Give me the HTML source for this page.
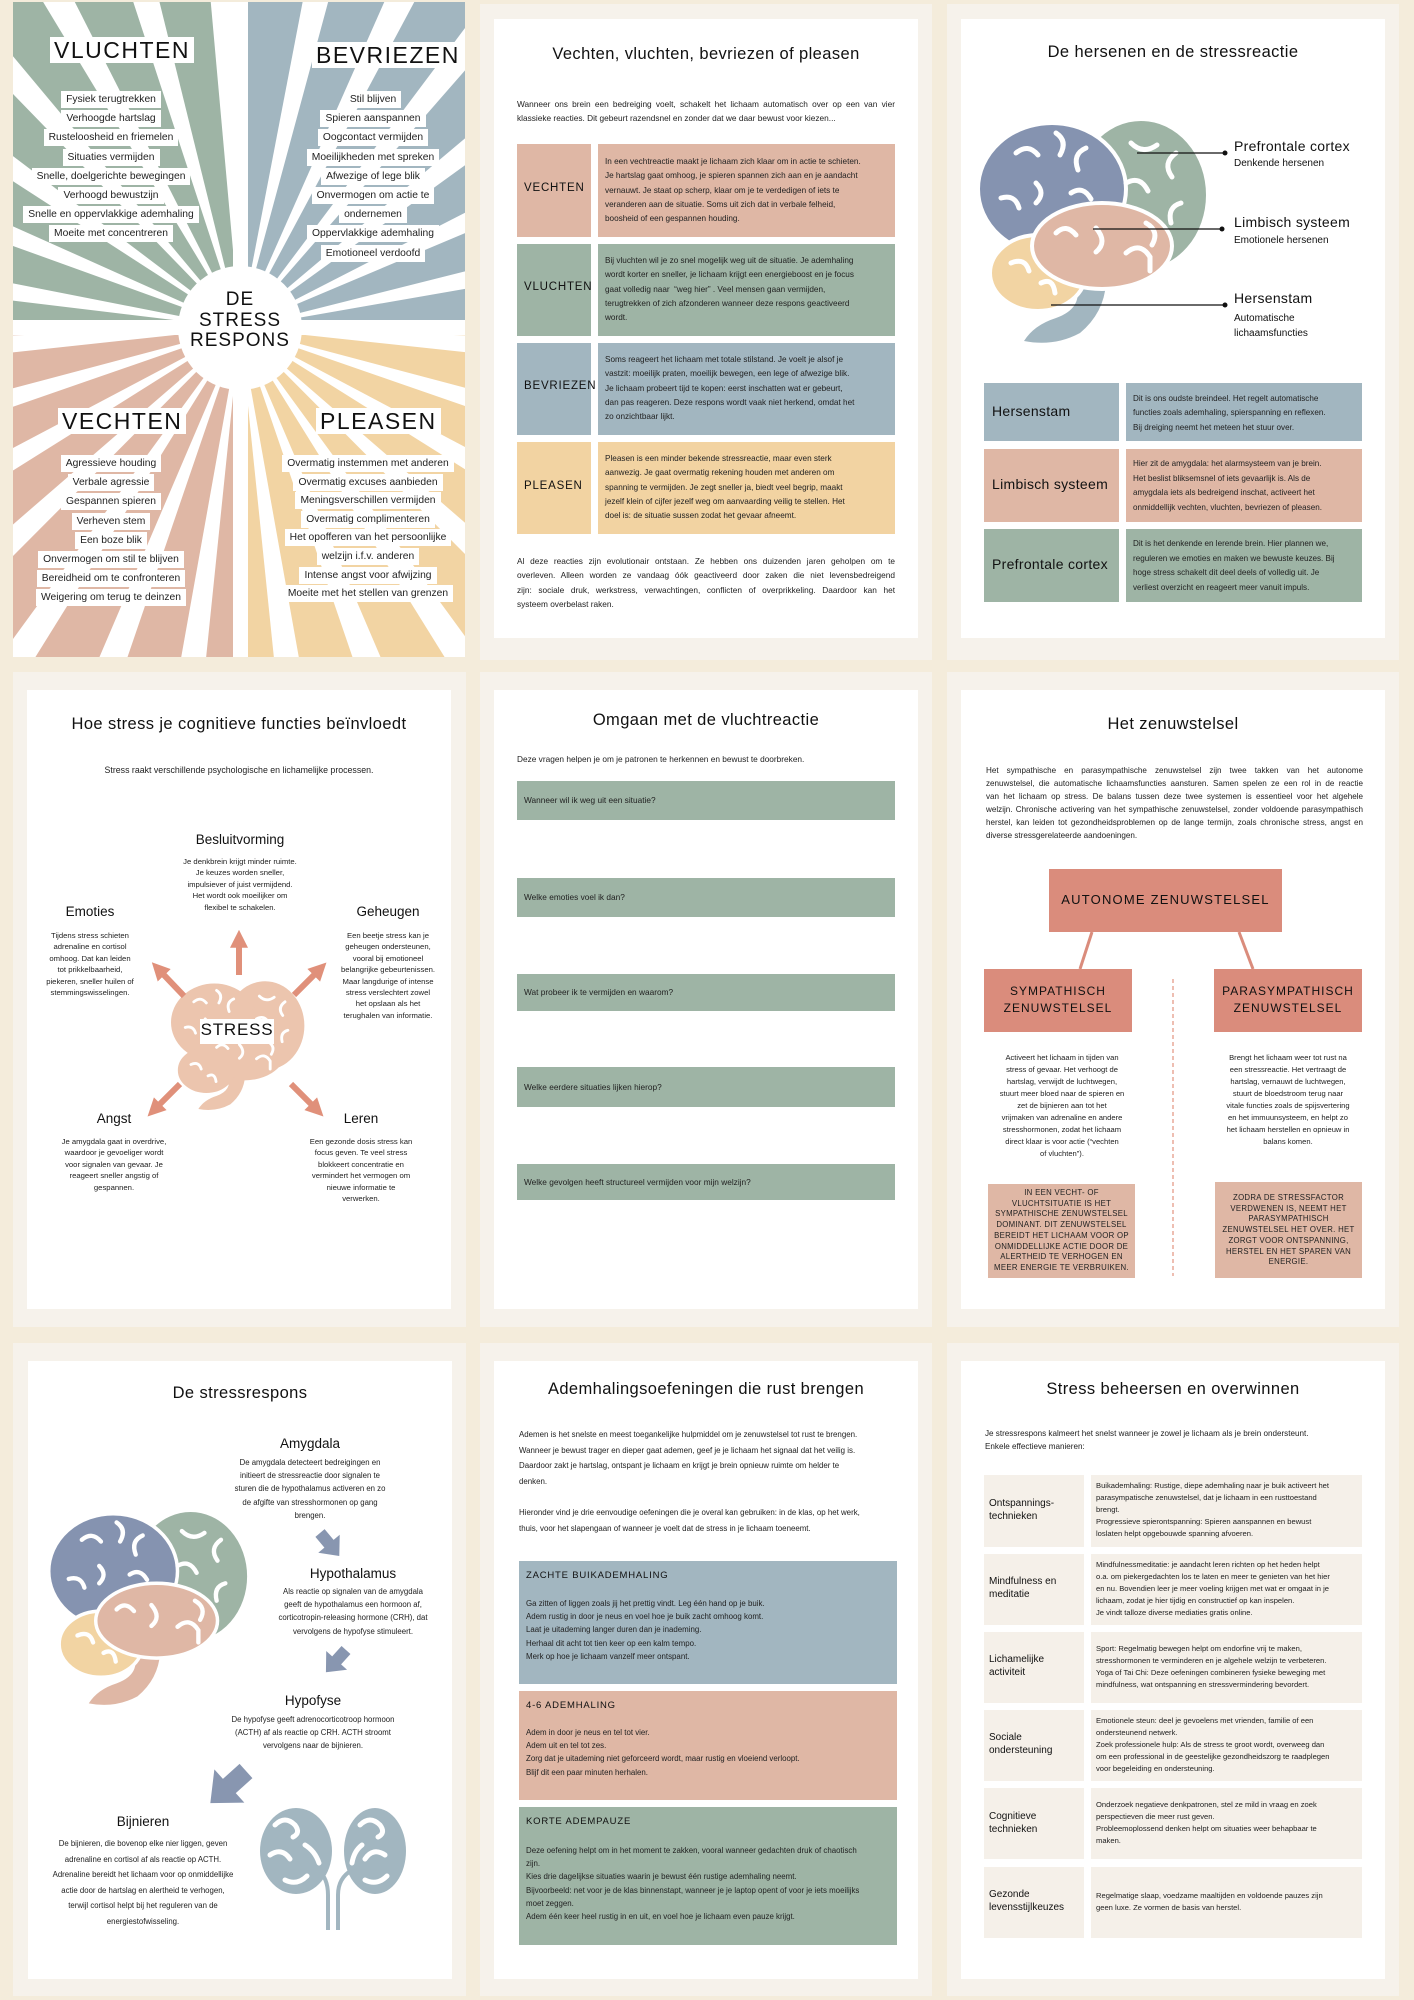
<!DOCTYPE html>
<html><head><meta charset="utf-8">
<style>
*{margin:0;padding:0;box-sizing:border-box}
body{width:1414px;height:2000px;background:#f4ecdb;position:relative;overflow:hidden;font-family:"Liberation Sans",sans-serif;color:#222}
.c{position:absolute;background:#f6f2eb}
.p{position:absolute;background:#fff}
.t{position:absolute;white-space:nowrap;font-family:"Liberation Sans",sans-serif;color:#222}
.ttl{font-size:16.5px;color:#111;text-align:center;letter-spacing:.4px}
.box{position:absolute}
.j div{text-align:justify;text-align-last:justify}
.j div.l{text-align-last:left}
.it{position:absolute;text-align:center;font-size:10.3px;line-height:19.2px;color:#222}
.it span{background:#fff;padding:3px 5px}
.hd{position:absolute;background:#fff;font-size:23px;letter-spacing:1.5px;color:#111;padding:0 4px;line-height:26px}
svg{position:absolute;left:0;top:0}
</style></head><body>

<div class="c" style="left:480px;top:4px;width:452px;height:656px"></div>
<div class="c" style="left:947px;top:4px;width:452px;height:656px"></div>
<div class="c" style="left:13px;top:672px;width:453px;height:655px"></div>
<div class="c" style="left:480px;top:672px;width:452px;height:655px"></div>
<div class="c" style="left:947px;top:672px;width:452px;height:655px"></div>
<div class="c" style="left:13px;top:1343px;width:453px;height:653px"></div>
<div class="c" style="left:480px;top:1343px;width:452px;height:653px"></div>
<div class="c" style="left:947px;top:1343px;width:452px;height:653px"></div>

<div class="p" style="left:494px;top:19px;width:424px;height:619px"></div>
<div class="p" style="left:961px;top:19px;width:424px;height:619px"></div>
<div class="p" style="left:27px;top:690px;width:424px;height:619px"></div>
<div class="p" style="left:494px;top:690px;width:424px;height:619px"></div>
<div class="p" style="left:961px;top:690px;width:424px;height:619px"></div>
<div class="p" style="left:28px;top:1361px;width:424px;height:618px"></div>
<div class="p" style="left:494px;top:1361px;width:424px;height:618px"></div>
<div class="p" style="left:961px;top:1361px;width:424px;height:618px"></div>

<svg width="1414" height="2000" viewBox="0 0 1414 2000">
<defs>
<clipPath id="cl1"><rect x="13" y="2" width="452" height="655"/></clipPath>
<polygon id="ray" points="0,0 700,-26 700,26" fill="#fff"/>
<g id="brain">
 <path d="M100,170 Q108,195 80,205 Q58,212 48,228 Q78,234 104,220 Q128,200 130,170 Z" style="fill:var(--s)"/>
 <ellipse cx="165" cy="82" rx="67" ry="76" style="fill:var(--g);stroke:var(--st)" stroke-width="4"/>
 <ellipse cx="76" cy="76" rx="74" ry="66" style="fill:var(--b);stroke:var(--st)" stroke-width="4"/>
 <ellipse cx="62" cy="160" rx="48" ry="38" style="fill:var(--y);stroke:var(--st)" stroke-width="4"/>
 <ellipse cx="126" cy="133" rx="70" ry="43" style="fill:var(--p);stroke:var(--st)" stroke-width="4"/>
 <g fill="none" stroke="#fff" stroke-width="5" stroke-linecap="round">
  <path d="M40,40 q12,-10 22,2"/><path d="M80,20 q12,8 4,22"/><path d="M110,35 q-14,6 -8,22"/>
  <path d="M25,85 q14,-4 18,10"/><path d="M60,70 q10,10 0,20"/><path d="M95,80 q12,-8 20,6"/>
  <path d="M155,30 q12,12 26,2"/><path d="M200,40 q-14,10 -4,24"/><path d="M150,70 q14,-8 22,8"/>
  <path d="M205,90 q-14,4 -10,20"/><path d="M170,110 q14,8 6,22"/>
  <path d="M80,120 q10,-10 20,2"/><path d="M120,115 q12,14 0,24"/><path d="M150,140 q14,-12 24,4 l0,14"/>
  <path d="M35,150 q14,-6 18,8"/><path d="M65,170 q12,-6 14,10"/>
 </g>
</g>
<g id="karr"><path d="M0,-6 L14,-6 L14,-14 L30,0 L14,14 L14,6 L0,6 Z" fill="#8896b0"/></g>
<marker id="mk" viewBox="0 0 10 10" refX="1" refY="5" markerWidth="3" markerHeight="3" orient="auto"><path d="M0,0 L10,5 L0,10 z" fill="#e0907a"/></marker>
</defs>

<g clip-path="url(#cl1)">
 <rect x="13" y="2" width="227" height="324" fill="#9eb4a5"/>
 <rect x="240" y="2" width="225" height="324" fill="#a2b6c0"/>
 <rect x="13" y="328" width="227" height="329" fill="#dfb7a5"/>
 <rect x="240" y="328" width="225" height="329" fill="#f2d4a3"/>
 <g transform="translate(240,328)">
  <use href="#ray" transform="rotate(4)"/><use href="#ray" transform="rotate(17)"/><use href="#ray" transform="rotate(30)"/><use href="#ray" transform="rotate(43)"/><use href="#ray" transform="rotate(56)"/><use href="#ray" transform="rotate(69)"/><use href="#ray" transform="rotate(82)"/><use href="#ray" transform="rotate(98)"/><use href="#ray" transform="rotate(111)"/><use href="#ray" transform="rotate(124)"/><use href="#ray" transform="rotate(137)"/><use href="#ray" transform="rotate(150)"/><use href="#ray" transform="rotate(163)"/><use href="#ray" transform="rotate(176)"/><use href="#ray" transform="rotate(189)"/><use href="#ray" transform="rotate(202)"/><use href="#ray" transform="rotate(215)"/><use href="#ray" transform="rotate(228)"/><use href="#ray" transform="rotate(241)"/><use href="#ray" transform="rotate(254)"/><use href="#ray" transform="rotate(267)"/><use href="#ray" transform="rotate(283)"/><use href="#ray" transform="rotate(296)"/><use href="#ray" transform="rotate(309)"/><use href="#ray" transform="rotate(322)"/><use href="#ray" transform="rotate(335)"/><use href="#ray" transform="rotate(348)"/>
 </g>
 <rect x="233" y="2" width="15" height="660" fill="#fff"/>
 <rect x="13" y="320" width="460" height="15" fill="#fff"/>
 <circle cx="240" cy="328" r="62" fill="#fff"/>
</g>

<use href="#brain" transform="translate(976,113)" style="--b:#8593b0;--g:#9eb4a5;--p:#dfb7a5;--y:#f2d4a3;--s:#a2b6c0;--st:#fff"/>
<g stroke="#111" stroke-width="1.3">
 <line x1="1137" y1="153" x2="1225" y2="153"/><line x1="1093" y1="229" x2="1222" y2="229"/><line x1="1051" y1="305" x2="1225" y2="305"/>
</g>
<g fill="#111"><circle cx="1225" cy="153" r="2.5"/><circle cx="1222" cy="229" r="2.5"/><circle cx="1225" cy="305" r="2.5"/></g>

<use href="#brain" transform="translate(171,979) scale(0.57)" style="--b:#ecc5ae;--g:#ecc5ae;--p:#ecc5ae;--y:#ecc5ae;--s:#ecc5ae;--st:#ecc5ae"/>
<g stroke="#e0907a" stroke-width="6" marker-end="url(#mk)">
 <line x1="239" y1="975" x2="239" y2="946"/>
 <line x1="184" y1="996" x2="163" y2="974"/>
 <line x1="294" y1="995" x2="315" y2="974"/>
 <line x1="180" y1="1084" x2="159" y2="1105"/>
 <line x1="291" y1="1084" x2="312" y2="1105"/>
</g>

<g stroke="#da8c7c" stroke-width="3"><line x1="1092" y1="932" x2="1080" y2="969"/><line x1="1239" y1="932" x2="1253" y2="969"/></g>
<line x1="1173" y1="979" x2="1173" y2="1276" stroke="#e8a898" stroke-width="1.5" stroke-dasharray="4,3"/>

<use href="#brain" transform="translate(47,1505) scale(0.87)" style="--b:#8593b0;--g:#9eb4a5;--p:#dfb7a5;--y:#f2d4a3;--s:#dfb7a5;--st:#fff"/>
<use href="#karr" transform="translate(320,1533) rotate(50)"/>
<use href="#karr" transform="translate(346,1650) rotate(132)"/>
<use href="#karr" transform="translate(246,1771) rotate(138) scale(1.6)"/>
<g fill="#a2b6c0">
 <ellipse cx="296" cy="1851" rx="36" ry="43"/><ellipse cx="375" cy="1851" rx="31" ry="43"/>
</g>
<g fill="none" stroke="#a2b6c0" stroke-width="4"><path d="M318,1870 Q328,1878 328,1895 L328,1930"/><path d="M352,1870 Q338,1878 338,1895 L338,1930"/></g>
<g fill="none" stroke="#fff" stroke-width="5" stroke-linecap="round">
 <path d="M275,1825 q10,-10 20,0 q6,8 -2,12"/><path d="M270,1855 q12,-8 20,4"/><path d="M285,1880 q12,6 22,-4"/><path d="M305,1845 q10,6 14,18"/>
 <path d="M360,1825 q10,-10 20,0 q6,8 -2,12"/><path d="M385,1855 q-12,-8 -20,4"/><path d="M365,1880 q12,6 22,-4"/><path d="M362,1845 q-8,6 -10,18"/>
</g>
</svg>

<div class="hd" style="left:50px;top:37px">VLUCHTEN</div>
<div class="hd" style="left:312px;top:42px">BEVRIEZEN</div>
<div class="hd" style="left:58px;top:408px">VECHTEN</div>
<div class="hd" style="left:316px;top:408px">PLEASEN</div>
<div class="it" style="left:11px;width:200px;top:90px"><span>Fysiek terugtrekken</span><br><span>Verhoogde hartslag</span><br><span>Rusteloosheid en friemelen</span><br><span>Situaties vermijden</span><br><span>Snelle, doelgerichte bewegingen</span><br><span>Verhoogd bewustzijn</span><br><span>Snelle en oppervlakkige ademhaling</span><br><span>Moeite met concentreren</span></div>
<div class="it" style="left:273px;width:200px;top:90px"><span>Stil blijven</span><br><span>Spieren aanspannen</span><br><span>Oogcontact vermijden</span><br><span>Moeilijkheden met spreken</span><br><span>Afwezige of lege blik</span><br><span>Onvermogen om actie te</span><br><span>ondernemen</span><br><span>Oppervlakkige ademhaling</span><br><span>Emotioneel verdoofd</span></div>
<div class="it" style="left:11px;width:200px;top:454px"><span>Agressieve houding</span><br><span>Verbale agressie</span><br><span>Gespannen spieren</span><br><span>Verheven stem</span><br><span>Een boze blik</span><br><span>Onvermogen om stil te blijven</span><br><span>Bereidheid om te confronteren</span><br><span>Weigering om terug te deinzen</span></div>
<div class="it" style="left:258px;width:220px;top:455px;line-height:18.6px"><span>Overmatig instemmen met anderen</span><br><span>Overmatig excuses aanbieden</span><br><span>Meningsverschillen vermijden</span><br><span>Overmatig complimenteren</span><br><span>Het opofferen van het persoonlijke</span><br><span>welzijn i.f.v. anderen</span><br><span>Intense angst voor afwijzing</span><br><span>Moeite met het stellen van grenzen</span></div>
<div class="t" style="left:180px;width:120px;top:290px;text-align:center;font-size:19px;line-height:20.5px;color:#111;letter-spacing:1px">DE<br>STRESS<br>RESPONS</div>

<div class="t ttl" style="left:494px;width:424px;top:45px">Vechten, vluchten, bevriezen of pleasen</div>
<div class="t j" style="left:517px;width:378px;top:97px;font-size:8.3px;line-height:14.3px"><div>Wanneer ons brein een bedreiging voelt, schakelt het lichaam automatisch over op een van vier</div><div class="l">klassieke reacties. Dit gebeurt razendsnel en zonder dat we daar bewust voor kiezen...</div></div>
<div class="box" style="left:517px;top:144px;width:74px;height:93px;background:#dfb7a5"></div>
<div class="box" style="left:598px;top:144px;width:297px;height:93px;background:#dfb7a5"></div>
<div class="box" style="left:517px;top:244px;width:74px;height:92px;background:#9eb4a5"></div>
<div class="box" style="left:598px;top:244px;width:297px;height:92px;background:#9eb4a5"></div>
<div class="box" style="left:517px;top:343px;width:74px;height:92px;background:#a2b6c0"></div>
<div class="box" style="left:598px;top:343px;width:297px;height:92px;background:#a2b6c0"></div>
<div class="box" style="left:517px;top:442px;width:74px;height:92px;background:#f2d3a2"></div>
<div class="box" style="left:598px;top:442px;width:297px;height:92px;background:#f2d3a2"></div>
<div class="t" style="left:524px;top:182px;font-size:11.5px;letter-spacing:.8px;color:#111">VECHTEN</div>
<div class="t" style="left:524px;top:281px;font-size:11.5px;letter-spacing:.8px;color:#111">VLUCHTEN</div>
<div class="t" style="left:524px;top:380px;font-size:11.5px;letter-spacing:.8px;color:#111">BEVRIEZEN</div>
<div class="t" style="left:524px;top:480px;font-size:11.5px;letter-spacing:.8px;color:#111">PLEASEN</div>
<div class="t" style="left:605px;top:155px;font-size:8.2px;line-height:14.3px">In een vechtreactie maakt je lichaam zich klaar om in actie te schieten.<br>Je hartslag gaat omhoog, je spieren spannen zich aan en je aandacht<br>vernauwt. Je staat op scherp, klaar om je te verdedigen of iets te<br>veranderen aan de situatie. Soms uit zich dat in verbale felheid,<br>boosheid of een gespannen houding.</div>
<div class="t" style="left:605px;top:254px;font-size:8.2px;line-height:14.3px">Bij vluchten wil je zo snel mogelijk weg uit de situatie. Je ademhaling<br>wordt korter en sneller, je lichaam krijgt een energieboost en je focus<br>gaat volledig naar &nbsp;“weg hier” . Veel mensen gaan vermijden,<br>terugtrekken of zich afzonderen wanneer deze respons geactiveerd<br>wordt.</div>
<div class="t" style="left:605px;top:353px;font-size:8.2px;line-height:14.3px">Soms reageert het lichaam met totale stilstand. Je voelt je alsof je<br>vastzit: moeilijk praten, moeilijk bewegen, een lege of afwezige blik.<br>Je lichaam probeert tijd te kopen: eerst inschatten wat er gebeurt,<br>dan pas reageren. Deze respons wordt vaak niet herkend, omdat het<br>zo onzichtbaar lijkt.</div>
<div class="t" style="left:605px;top:452px;font-size:8.2px;line-height:14.3px">Pleasen is een minder bekende stressreactie, maar even sterk<br>aanwezig. Je gaat overmatig rekening houden met anderen om<br>spanning te vermijden. Je zegt sneller ja, biedt veel begrip, maakt<br>jezelf klein of cijfer jezelf weg om aanvaarding veilig te stellen. Het<br>doel is: de situatie sussen zodat het gevaar afneemt.</div>
<div class="t j" style="left:517px;width:378px;top:554px;font-size:8.3px;line-height:14.3px"><div>Al deze reacties zijn evolutionair ontstaan. Ze hebben ons duizenden jaren geholpen om te</div><div>overleven. Alleen worden ze vandaag óók geactiveerd door zaken die niet levensbedreigend</div><div>zijn: sociale druk, werkstress, verwachtingen, conflicten of overprikkeling. Daardoor kan het</div><div class="l">systeem overbelast raken.</div></div>

<div class="t ttl" style="left:961px;width:424px;top:43px">De hersenen en de stressreactie</div>
<div class="t" style="left:1234px;top:138px;font-size:14px;color:#111;letter-spacing:.3px">Prefrontale cortex</div>
<div class="t" style="left:1234px;top:158px;font-size:10px;color:#111">Denkende hersenen</div>
<div class="t" style="left:1234px;top:214px;font-size:14px;color:#111;letter-spacing:.3px">Limbisch systeem</div>
<div class="t" style="left:1234px;top:235px;font-size:10px;color:#111">Emotionele hersenen</div>
<div class="t" style="left:1234px;top:290px;font-size:14px;color:#111;letter-spacing:.3px">Hersenstam</div>
<div class="t" style="left:1234px;top:311px;font-size:10px;line-height:15px;color:#111">Automatische<br>lichaamsfuncties</div>
<div class="box" style="left:984px;top:383px;width:135px;height:58px;background:#a2b6c0"></div>
<div class="box" style="left:1126px;top:383px;width:236px;height:58px;background:#a2b6c0"></div>
<div class="box" style="left:984px;top:449px;width:135px;height:73px;background:#dfb7a5"></div>
<div class="box" style="left:1126px;top:449px;width:236px;height:73px;background:#dfb7a5"></div>
<div class="box" style="left:984px;top:529px;width:135px;height:73px;background:#9eb4a5"></div>
<div class="box" style="left:1126px;top:529px;width:236px;height:73px;background:#9eb4a5"></div>
<div class="t" style="left:992px;top:403px;font-size:14px;color:#111;letter-spacing:.3px">Hersenstam</div>
<div class="t" style="left:992px;top:476px;font-size:14px;color:#111;letter-spacing:.3px">Limbisch systeem</div>
<div class="t" style="left:992px;top:556px;font-size:14px;color:#111;letter-spacing:.3px">Prefrontale cortex</div>
<div class="t" style="left:1133px;top:392px;font-size:8.1px;line-height:14.3px">Dit is ons oudste breindeel. Het regelt automatische<br>functies zoals ademhaling, spierspanning en reflexen.<br>Bij dreiging neemt het meteen het stuur over.</div>
<div class="t" style="left:1133px;top:457px;font-size:8.1px;line-height:14.5px">Hier zit de amygdala: het alarmsysteem van je brein.<br>Het beslist bliksemsnel of iets gevaarlijk is. Als de<br>amygdala iets als bedreigend inschat, activeert het<br>onmiddellijk vechten, vluchten, bevriezen of pleasen.</div>
<div class="t" style="left:1133px;top:537px;font-size:8.1px;line-height:14.5px">Dit is het denkende en lerende brein. Hier plannen we,<br>reguleren we emoties en maken we bewuste keuzes. Bij<br>hoge stress schakelt dit deel deels of volledig uit. Je<br>verliest overzicht en reageert meer vanuit impuls.</div>

<div class="t ttl" style="left:27px;width:424px;top:715px">Hoe stress je cognitieve functies beïnvloedt</div>
<div class="t" style="left:27px;width:424px;top:765px;text-align:center;font-size:8.8px">Stress raakt verschillende psychologische en lichamelijke processen.</div>
<div class="t" style="left:140px;width:200px;top:832px;text-align:center;font-size:13.5px;color:#111">Besluitvorming</div>
<div class="t" style="left:140px;width:200px;top:856px;text-align:center;font-size:7.7px;line-height:11.4px">Je denkbrein krijgt minder ruimte.<br>Je keuzes worden sneller,<br>impulsiever of juist vermijdend.<br>Het wordt ook moeilijker om<br>flexibel te schakelen.</div>
<div class="t" style="left:20px;width:140px;top:904px;text-align:center;font-size:13.5px;color:#111">Emoties</div>
<div class="t" style="left:20px;width:140px;top:930px;text-align:center;font-size:7.7px;line-height:11.4px">Tijdens stress schieten<br>adrenaline en cortisol<br>omhoog. Dat kan leiden<br>tot prikkelbaarheid,<br>piekeren, sneller huilen of<br>stemmingswisselingen.</div>
<div class="t" style="left:318px;width:140px;top:904px;text-align:center;font-size:13.5px;color:#111">Geheugen</div>
<div class="t" style="left:318px;width:140px;top:930px;text-align:center;font-size:7.7px;line-height:11.4px">Een beetje stress kan je<br>geheugen ondersteunen,<br>vooral bij emotioneel<br>belangrijke gebeurtenissen.<br>Maar langdurige of intense<br>stress verslechtert zowel<br>het opslaan als het<br>terughalen van informatie.</div>
<div class="box" style="left:200px;top:1019px;width:74px;height:25px;background:#fff"></div>
<div class="t" style="left:200px;width:74px;top:1020px;text-align:center;font-size:17px;letter-spacing:.8px;color:#111">STRESS</div>
<div class="t" style="left:44px;width:140px;top:1111px;text-align:center;font-size:13.5px;color:#111">Angst</div>
<div class="t" style="left:44px;width:140px;top:1136px;text-align:center;font-size:7.7px;line-height:11.4px">Je amygdala gaat in overdrive,<br>waardoor je gevoeliger wordt<br>voor signalen van gevaar. Je<br>reageert sneller angstig of<br>gespannen.</div>
<div class="t" style="left:291px;width:140px;top:1111px;text-align:center;font-size:13.5px;color:#111">Leren</div>
<div class="t" style="left:291px;width:140px;top:1136px;text-align:center;font-size:7.7px;line-height:11.4px">Een gezonde dosis stress kan<br>focus geven. Te veel stress<br>blokkeert concentratie en<br>vermindert het vermogen om<br>nieuwe informatie te<br>verwerken.</div>

<div class="t ttl" style="left:494px;width:424px;top:711px">Omgaan met de vluchtreactie</div>
<div class="t" style="left:517px;top:754px;font-size:8.3px">Deze vragen helpen je om je patronen te herkennen en bewust te doorbreken.</div>
<div class="box" style="left:517px;top:781px;width:378px;height:39px;background:#9eb4a5"></div>
<div class="box" style="left:517px;top:878px;width:378px;height:39px;background:#9eb4a5"></div>
<div class="box" style="left:517px;top:974px;width:378px;height:37px;background:#9eb4a5"></div>
<div class="box" style="left:517px;top:1067px;width:378px;height:40px;background:#9eb4a5"></div>
<div class="box" style="left:517px;top:1164px;width:378px;height:36px;background:#9eb4a5"></div>
<div class="t" style="left:524px;top:795px;font-size:8.3px">Wanneer wil ik weg uit een situatie?</div>
<div class="t" style="left:524px;top:892px;font-size:8.3px">Welke emoties voel ik dan?</div>
<div class="t" style="left:524px;top:987px;font-size:8.3px">Wat probeer ik te vermijden en waarom?</div>
<div class="t" style="left:524px;top:1082px;font-size:8.3px">Welke eerdere situaties lijken hierop?</div>
<div class="t" style="left:524px;top:1177px;font-size:8.3px">Welke gevolgen heeft structureel vermijden voor mijn welzijn?</div>

<div class="t ttl" style="left:961px;width:424px;top:715px">Het zenuwstelsel</div>
<div class="t j" style="left:986px;width:377px;top:764px;font-size:8.1px;line-height:13.1px"><div>Het sympathische en parasympathische zenuwstelsel zijn twee takken van het autonome</div><div>zenuwstelsel, die automatische lichaamsfuncties aansturen. Samen spelen ze een rol in de reactie</div><div>van het lichaam op stress. De balans tussen deze twee systemen is essentieel voor het algehele</div><div>welzijn. Chronische activering van het sympathische zenuwstelsel, zonder voldoende parasympathisch</div><div>herstel, kan leiden tot gezondheidsproblemen op de lange termijn, zoals chronische stress, angst en</div><div class="l">diverse stressgerelateerde aandoeningen.</div></div>
<div class="box" style="left:1049px;top:869px;width:233px;height:63px;background:#da8c7c"></div>
<div class="t" style="left:1049px;width:233px;top:892px;text-align:center;font-size:13px;letter-spacing:1.2px;color:#111">AUTONOME ZENUWSTELSEL</div>
<div class="box" style="left:984px;top:969px;width:148px;height:63px;background:#da8c7c"></div>
<div class="box" style="left:1214px;top:969px;width:148px;height:63px;background:#da8c7c"></div>
<div class="t" style="left:984px;width:148px;top:983px;text-align:center;font-size:12px;letter-spacing:1px;line-height:17px;color:#111">SYMPATHISCH<br>ZENUWSTELSEL</div>
<div class="t" style="left:1214px;width:148px;top:983px;text-align:center;font-size:12px;letter-spacing:1px;line-height:17px;color:#111">PARASYMPATHISCH<br>ZENUWSTELSEL</div>
<div class="t" style="left:992px;width:140px;top:1052px;text-align:center;font-size:7.6px;line-height:12px">Activeert het lichaam in tijden van<br>stress of gevaar. Het verhoogt de<br>hartslag, verwijdt de luchtwegen,<br>stuurt meer bloed naar de spieren en<br>zet de bijnieren aan tot het<br>vrijmaken van adrenaline en andere<br>stresshormonen, zodat het lichaam<br>direct klaar is voor actie (“vechten<br>of vluchten”).</div>
<div class="t" style="left:1218px;width:140px;top:1052px;text-align:center;font-size:7.6px;line-height:12px">Brengt het lichaam weer tot rust na<br>een stressreactie. Het vertraagt de<br>hartslag, vernauwt de luchtwegen,<br>stuurt de bloedstroom terug naar<br>vitale functies zoals de spijsvertering<br>en het immuunsysteem, en helpt zo<br>het lichaam herstellen en opnieuw in<br>balans komen.</div>
<div class="box" style="left:988px;top:1184px;width:147px;height:94px;background:#dfb7a5"></div>
<div class="box" style="left:1215px;top:1182px;width:147px;height:96px;background:#dfb7a5"></div>
<div class="t" style="left:988px;width:147px;top:1188px;text-align:center;font-size:7.8px;line-height:10.7px;letter-spacing:.3px">IN EEN VECHT- OF<br>VLUCHTSITUATIE IS HET<br>SYMPATHISCHE ZENUWSTELSEL<br>DOMINANT. DIT ZENUWSTELSEL<br>BEREIDT HET LICHAAM VOOR OP<br>ONMIDDELLIJKE ACTIE DOOR DE<br>ALERTHEID TE VERHOGEN EN<br>MEER ENERGIE TE VERBRUIKEN.</div>
<div class="t" style="left:1215px;width:147px;top:1193px;text-align:center;font-size:7.8px;line-height:10.7px;letter-spacing:.3px">ZODRA DE STRESSFACTOR<br>VERDWENEN IS, NEEMT HET<br>PARASYMPATHISCH<br>ZENUWSTELSEL HET OVER. HET<br>ZORGT VOOR ONTSPANNING,<br>HERSTEL EN HET SPAREN VAN<br>ENERGIE.</div>

<div class="t ttl" style="left:28px;width:424px;top:1384px">De stressrespons</div>
<div class="t" style="left:210px;width:200px;top:1436px;text-align:center;font-size:13.5px;color:#111">Amygdala</div>
<div class="t" style="left:210px;width:200px;top:1456px;text-align:center;font-size:7.8px;line-height:13.2px">De amygdala detecteert bedreigingen en<br>initieert de stressreactie door signalen te<br>sturen die de hypothalamus activeren en zo<br>de afgifte van stresshormonen op gang<br>brengen.</div>
<div class="t" style="left:253px;width:200px;top:1566px;text-align:center;font-size:13.5px;color:#111">Hypothalamus</div>
<div class="t" style="left:253px;width:200px;top:1585px;text-align:center;font-size:7.8px;line-height:13.2px">Als reactie op signalen van de amygdala<br>geeft de hypothalamus een hormoon af,<br>corticotropin-releasing hormone (CRH), dat<br>vervolgens de hypofyse stimuleert.</div>
<div class="t" style="left:213px;width:200px;top:1693px;text-align:center;font-size:13.5px;color:#111">Hypofyse</div>
<div class="t" style="left:213px;width:200px;top:1713px;text-align:center;font-size:7.8px;line-height:13.2px">De hypofyse geeft adrenocorticotroop hormoon<br>(ACTH) af als reactie op CRH. ACTH stroomt<br>vervolgens naar de bijnieren.</div>
<div class="t" style="left:43px;width:200px;top:1814px;text-align:center;font-size:13.5px;color:#111">Bijnieren</div>
<div class="t" style="left:43px;width:200px;top:1836px;text-align:center;font-size:7.8px;line-height:15.5px">De bijnieren, die bovenop elke nier liggen, geven<br>adrenaline en cortisol af als reactie op ACTH.<br>Adrenaline bereidt het lichaam voor op onmiddellijke<br>actie door de hartslag en alertheid te verhogen,<br>terwijl cortisol helpt bij het reguleren van de<br>energiestofwisseling.</div>

<div class="t ttl" style="left:494px;width:424px;top:1380px">Ademhalingsoefeningen die rust brengen</div>
<div class="t" style="left:519px;top:1427px;font-size:7.9px;line-height:15.6px">Ademen is het snelste en meest toegankelijke hulpmiddel om je zenuwstelsel tot rust te brengen.<br>Wanneer je bewust trager en dieper gaat ademen, geef je je lichaam het signaal dat het veilig is.<br>Daardoor zakt je hartslag, ontspant je lichaam en krijgt je brein opnieuw ruimte om helder te<br>denken.</div>
<div class="t" style="left:519px;top:1505px;font-size:7.9px;line-height:15.6px">Hieronder vind je drie eenvoudige oefeningen die je overal kan gebruiken: in de klas, op het werk,<br>thuis, voor het slapengaan of wanneer je voelt dat de stress in je lichaam toeneemt.</div>
<div class="box" style="left:519px;top:1561px;width:378px;height:123px;background:#a2b6c0"></div>
<div class="box" style="left:519px;top:1691px;width:378px;height:109px;background:#dfb7a5"></div>
<div class="box" style="left:519px;top:1807px;width:378px;height:138px;background:#9eb4a5"></div>
<div class="t" style="left:526px;top:1570px;font-size:9.5px;letter-spacing:.8px;color:#111">ZACHTE BUIKADEMHALING</div>
<div class="t" style="left:526px;top:1597px;font-size:7.9px;line-height:13.2px">Ga zitten of liggen zoals jij het prettig vindt. Leg één hand op je buik.<br>Adem rustig in door je neus en voel hoe je buik zacht omhoog komt.<br>Laat je uitademing langer duren dan je inademing.<br>Herhaal dit acht tot tien keer op een kalm tempo.<br>Merk op hoe je lichaam vanzelf meer ontspant.</div>
<div class="t" style="left:526px;top:1700px;font-size:9.5px;letter-spacing:.8px;color:#111">4-6 ADEMHALING</div>
<div class="t" style="left:526px;top:1726px;font-size:7.9px;line-height:13.2px">Adem in door je neus en tel tot vier.<br>Adem uit en tel tot zes.<br>Zorg dat je uitademing niet geforceerd wordt, maar rustig en vloeiend verloopt.<br>Blijf dit een paar minuten herhalen.</div>
<div class="t" style="left:526px;top:1816px;font-size:9.5px;letter-spacing:.8px;color:#111">KORTE ADEMPAUZE</div>
<div class="t" style="left:526px;top:1844px;font-size:7.9px;line-height:13.2px">Deze oefening helpt om in het moment te zakken, vooral wanneer gedachten druk of chaotisch<br>zijn.<br>Kies drie dagelijkse situaties waarin je bewust één rustige ademhaling neemt.<br>Bijvoorbeeld: net voor je de klas binnenstapt, wanneer je je laptop opent of voor je iets moeilijks<br>moet zeggen.<br>Adem één keer heel rustig in en uit, en voel hoe je lichaam even pauze krijgt.</div>

<div class="t ttl" style="left:961px;width:424px;top:1380px">Stress beheersen en overwinnen</div>
<div class="t" style="left:985px;top:1427px;font-size:8.1px;line-height:13px">Je stressrespons kalmeert het snelst wanneer je zowel je lichaam als je brein ondersteunt.<br>Enkele effectieve manieren:</div>
<div class="box" style="left:984px;top:1475px;width:100px;height:72px;background:#f5f0e9"></div><div class="box" style="left:1091px;top:1475px;width:271px;height:72px;background:#f5f0e9"></div>
<div class="box" style="left:984px;top:1554px;width:100px;height:71px;background:#f5f0e9"></div><div class="box" style="left:1091px;top:1554px;width:271px;height:71px;background:#f5f0e9"></div>
<div class="box" style="left:984px;top:1632px;width:100px;height:71px;background:#f5f0e9"></div><div class="box" style="left:1091px;top:1632px;width:271px;height:71px;background:#f5f0e9"></div>
<div class="box" style="left:984px;top:1710px;width:100px;height:71px;background:#f5f0e9"></div><div class="box" style="left:1091px;top:1710px;width:271px;height:71px;background:#f5f0e9"></div>
<div class="box" style="left:984px;top:1788px;width:100px;height:71px;background:#f5f0e9"></div><div class="box" style="left:1091px;top:1788px;width:271px;height:71px;background:#f5f0e9"></div>
<div class="box" style="left:984px;top:1867px;width:100px;height:71px;background:#f5f0e9"></div><div class="box" style="left:1091px;top:1867px;width:271px;height:71px;background:#f5f0e9"></div>
<div class="t" style="left:989px;top:1497px;font-size:10px;line-height:13px;color:#111">Ontspannings-<br>technieken</div>
<div class="t" style="left:989px;top:1575px;font-size:10px;line-height:13px;color:#111">Mindfulness en<br>meditatie</div>
<div class="t" style="left:989px;top:1653px;font-size:10px;line-height:13px;color:#111">Lichamelijke<br>activiteit</div>
<div class="t" style="left:989px;top:1731px;font-size:10px;line-height:13px;color:#111">Sociale<br>ondersteuning</div>
<div class="t" style="left:989px;top:1810px;font-size:10px;line-height:13px;color:#111">Cognitieve<br>technieken</div>
<div class="t" style="left:989px;top:1888px;font-size:10px;line-height:13px;color:#111">Gezonde<br>levensstijlkeuzes</div>
<div class="t" style="left:1096px;top:1480px;font-size:7.6px;line-height:12px">Buikademhaling: Rustige, diepe ademhaling naar je buik activeert het<br>parasympatische zenuwstelsel, dat je lichaam in een rusttoestand<br>brengt.<br>Progressieve spierontspanning: Spieren aanspannen en bewust<br>loslaten helpt opgebouwde spanning afvoeren.</div>
<div class="t" style="left:1096px;top:1559px;font-size:7.6px;line-height:12px">Mindfulnessmeditatie: je aandacht leren richten op het heden helpt<br>o.a. om piekergedachten los te laten en meer te genieten van het hier<br>en nu. Bovendien leer je meer voeling krijgen met wat er omgaat in je<br>lichaam, zodat je hier tijdig en constructief op kan inspelen.<br>Je vindt talloze diverse mediaties gratis online.</div>
<div class="t" style="left:1096px;top:1643px;font-size:7.6px;line-height:12px">Sport: Regelmatig bewegen helpt om endorfine vrij te maken,<br>stresshormonen te verminderen en je algehele welzijn te verbeteren.<br>Yoga of Tai Chi: Deze oefeningen combineren fysieke beweging met<br>mindfulness, wat ontspanning en stressvermindering bevordert.</div>
<div class="t" style="left:1096px;top:1715px;font-size:7.6px;line-height:12px">Emotionele steun: deel je gevoelens met vrienden, familie of een<br>ondersteunend netwerk.<br>Zoek professionele hulp: Als de stress te groot wordt, overweeg dan<br>om een professional in de geestelijke gezondheidszorg te raadplegen<br>voor begeleiding en ondersteuning.</div>
<div class="t" style="left:1096px;top:1799px;font-size:7.6px;line-height:12px">Onderzoek negatieve denkpatronen, stel ze mild in vraag en zoek<br>perspectieven die meer rust geven.<br>Probleemoplossend denken helpt om situaties weer behapbaar te<br>maken.</div>
<div class="t" style="left:1096px;top:1890px;font-size:7.6px;line-height:12px">Regelmatige slaap, voedzame maaltijden en voldoende pauzes zijn<br>geen luxe. Ze vormen de basis van herstel.</div>

</body></html>
